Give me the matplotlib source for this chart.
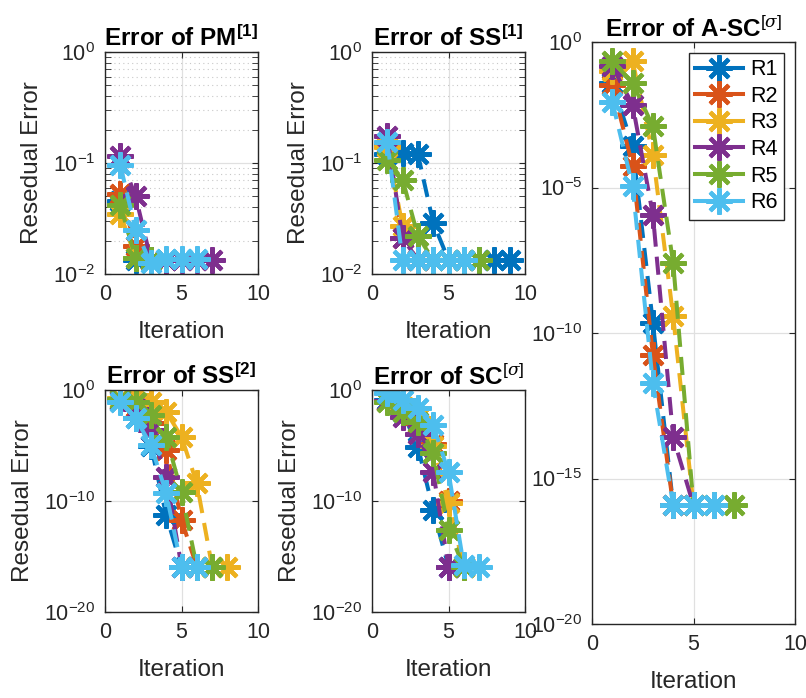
"""
Residual error vs. iteration for six runs (R1..R6) across five solvers.
"""
import matplotlib
matplotlib.use("Agg")
import matplotlib.pyplot as plt
from matplotlib.lines import Line2D
from matplotlib.ticker import LogLocator, NullLocator, LogFormatterSciNotation

plt.rcParams["font.family"] = ["Liberation Sans", "DejaVu Sans"]
plt.rcParams["mathtext.fontset"] = "custom"
plt.rcParams["mathtext.rm"] = "Liberation Sans"
plt.rcParams["mathtext.bf"] = "Liberation Sans:bold"
plt.rcParams["mathtext.it"] = "DejaVu Serif:italic"

# ---------------------------------------------------------------------------
# Data
# ---------------------------------------------------------------------------
RUNS   = ["R1", "R2", "R3", "R4", "R5", "R6"]
COLORS = ["#0072BD", "#D95319", "#EDB120", "#7E2F8E", "#77AC30", "#4DBEEE"]

FLAT = 1.2e-16

pm1 = [
    [0.045, 0.0135, 0.0134, 0.0134],
    [0.053, 0.018, 0.0134, 0.0134],
    [0.035, 0.014, 0.0134],
    [0.115, 0.05, 0.0134, 0.0134, 0.0134, 0.0134, 0.0134],
    [0.042, 0.0138, 0.0134],
    [0.096, 0.025, 0.0125, 0.0137, 0.0137, 0.0137],
]

ss1 = [
    [0.12, 0.123, 0.12, 0.029, 0.0134, 0.0134, 0.0134, 0.0134, 0.0134],
    [0.15, 0.021, 0.0134, 0.0134],
    [0.14, 0.027, 0.0134],
    [0.174, 0.021, 0.0134],
    [0.107, 0.071, 0.022, 0.0134, 0.0134, 0.0134, 0.0134],
    [0.156, 0.0134, 0.0134, 0.0134, 0.0134, 0.0134],
]

ss2 = [
    [0.1, 3e-3, 1e-5, 5e-12, FLAT],
    [0.12, 0.03, 1e-3, 4e-6, 2e-12, FLAT],
    [0.2, 0.35, 0.09, 0.011, 6e-5, 4e-9, FLAT, FLAT],
    [0.12, 0.02, 2.5e-4, 1.6e-8, FLAT],
    [0.15, 0.09, 5.5e-3, 6e-5, 6e-10, FLAT, FLAT],
    [0.09, 2.8e-3, 1.1e-5, 5e-10, FLAT, FLAT],
]

sc = [
    [0.12, 0.01, 8e-6, 1.5e-11, FLAT],
    [0.1, 0.02, 1e-3, 1.5e-5, 1e-10, FLAT],
    [0.1, 0.03, 3e-3, 1e-5, 6e-11, FLAT],
    [0.1, 4e-3, 1.2e-4, 4e-8, FLAT],
    [0.08, 0.01, 1.4e-3, 2e-6, 2.5e-13, FLAT],
    [0.5, 0.12, 0.022, 7e-4, 4e-8, 1.6e-16, FLAT],
]

asc = [
    [0.04, 2.6e-4, 2.2e-10, FLAT],
    [0.034, 5.4e-5, 1.8e-11, FLAT],
    [0.1, 0.22, 1.35e-4, 3.7e-10, FLAT],
    [0.145, 7e-3, 1.15e-6, 2.6e-14, FLAT],
    [0.22, 0.039, 1.26e-3, 2.5e-8, FLAT, FLAT, FLAT],
    [9e-3, 1.1e-5, 1.9e-12, FLAT, FLAT, FLAT],
]

TITLES = [
    r"Error of PM$^{\mathbf{[1]}}$",
    r"Error of SS$^{\mathbf{[1]}}$",
    r"Error of SS$^{\mathbf{[2]}}$",
    r"Error of SC$^{[\sigma]}$",
    r"Error of A-SC$^{[\sigma]}$",
]

# ---------------------------------------------------------------------------
# Layout (pixel boxes: left, right, top, bottom)
# ---------------------------------------------------------------------------
W, H = 806, 698
BOXES = [
    (105, 258, 52, 274),
    (372, 525, 52, 274),
    (105, 258, 390, 612),
    (372, 525, 390, 612),
    (592, 795, 42, 624),
]

fig = plt.figure(figsize=(W / 100, H / 100), dpi=100)

MARKER = (8, 2, 0)
GRAY = "#262626"
LW, MS, MEW = 2.9, 19, 3.0


def make_axes(box):
    l, r, t, b = box
    return fig.add_axes([l / W, 1 - b / H, (r - l) / W, (b - t) / H])


def draw(ax, series, ylim, yticks, title, ylabel=True, minor=False):
    for vals, c in zip(series, COLORS):
        x = list(range(1, len(vals) + 1))
        ax.plot(x, vals, color=c, lw=LW, ls=(0, (4.5, 2.5)),
                marker=MARKER, ms=MS, mew=MEW, mec=c)
    ax.set_yscale("log")
    ax.set_xlim(0, 10)
    ax.set_ylim(*ylim)
    ax.set_xticks([0, 5, 10])
    ax.set_yticks(yticks)
    ax.yaxis.set_major_formatter(LogFormatterSciNotation())
    if minor:
        ax.yaxis.set_minor_locator(LogLocator(base=10, subs=range(2, 10)))
        ax.grid(True, which="minor", axis="y", color="#c8c8c8", ls=(0, (1, 3)), lw=0.8)
    else:
        ax.yaxis.set_minor_locator(NullLocator())
    ax.xaxis.set_minor_locator(NullLocator())
    ax.grid(True, which="major", color="#e0e0e0", lw=0.9)
    ax.set_axisbelow(True)
    ax.tick_params(which="both", direction="in", top=True, right=True,
                   labelsize=15.5, colors=GRAY, length=4)
    ax.tick_params(axis="both", which="major", labelcolor="#262626", pad=7)
    for s in ax.spines.values():
        s.set_color(GRAY)
        s.set_linewidth(1.0)
    ax.set_title(title, fontsize=17.5, fontweight="bold", pad=4)
    ax.set_xlabel("Iteration", fontsize=17.5, color=GRAY, labelpad=12)
    if ylabel:
        ax.set_ylabel("Resedual Error", fontsize=17.5, color=GRAY, labelpad=7)


ax1 = make_axes(BOXES[0])
draw(ax1, pm1, (1e-2, 1e0), [1e-2, 1e-1, 1e0], TITLES[0], minor=True)

ax2 = make_axes(BOXES[1])
draw(ax2, ss1, (1e-2, 1e0), [1e-2, 1e-1, 1e0], TITLES[1], minor=True)

ax3 = make_axes(BOXES[2])
draw(ax3, ss2, (1e-20, 1e0), [1e-20, 1e-10, 1e0], TITLES[2])

ax4 = make_axes(BOXES[3])
draw(ax4, sc, (1e-20, 1e0), [1e-20, 1e-10, 1e0], TITLES[3])

ax5 = make_axes(BOXES[4])
draw(ax5, asc, (1e-20, 1e0), [1e-20, 1e-15, 1e-10, 1e-5, 1e0], TITLES[4], ylabel=False)

handles = [Line2D([], [], color=c, lw=LW, marker=MARKER, ms=MS, mew=MEW, mec=c)
           for c in COLORS]
leg = ax5.legend(handles, RUNS, loc="upper right", fontsize=15.5, fancybox=False,
                 framealpha=1, edgecolor=GRAY, handlelength=2.2,
                 borderpad=0.3, labelspacing=0.26, handletextpad=0.35,
                 borderaxespad=0.5)
leg.get_frame().set_linewidth(1.0)

fig.savefig("out.png", dpi=100)
